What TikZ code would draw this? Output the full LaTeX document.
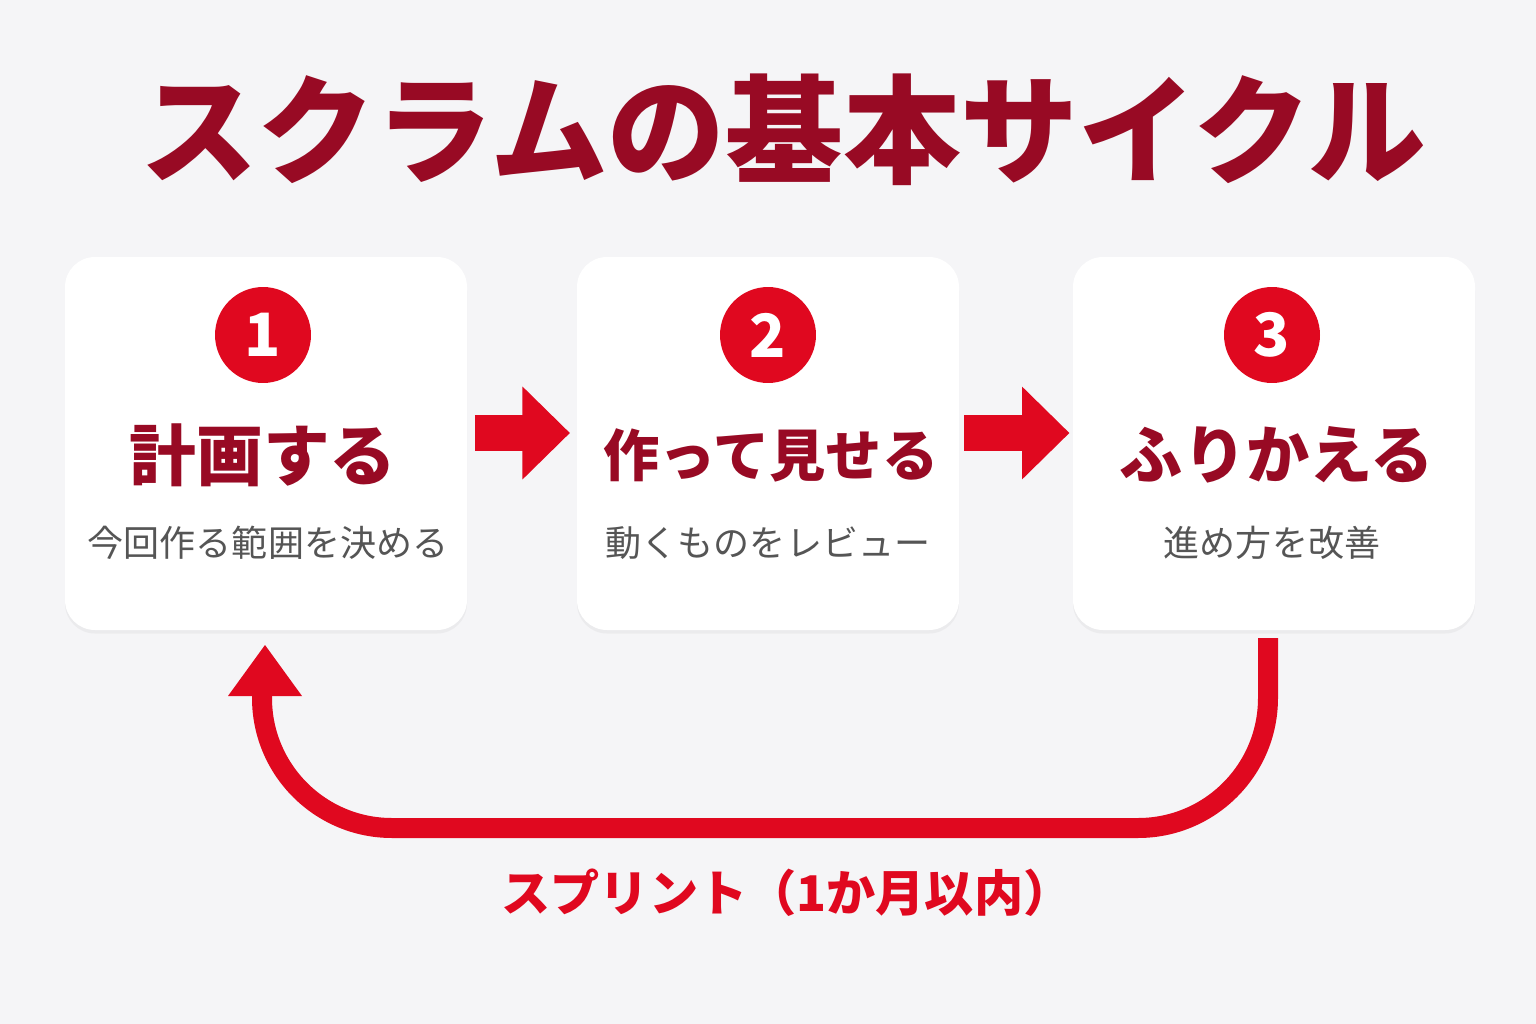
\documentclass[tikz,border=0pt]{standalone}
\usepackage{fontspec}
\setmainfont{Noto Sans CJK JP}
\usetikzlibrary{positioning,arrows.meta,shadows}
\definecolor{bgc}{HTML}{F5F5F7}
\definecolor{darkred}{HTML}{980A24}
\definecolor{brightred}{HTML}{E0081F}
\definecolor{subgray}{HTML}{555555}
\tikzset{
	card/.style={draw=none,fill=white,rounded corners=0.6cm,
		drop shadow={opacity=0.08,shadow xshift=0pt,shadow yshift=-2pt}},
	num/.style={circle,fill=brightred,text=white,minimum size=1.92cm,inner sep=0pt,
		font=\fontsize{34}{34}\bfseries},
	head/.style={text=darkred,font=\fontsize{38}{40}\bfseries},
	sub/.style={text=subgray,font=\fontsize{20.5}{22}\selectfont},
	flow/.style={brightred,line width=0.72cm,-{Triangle[length=0.95cm,width=1.8cm]}},
	loop/.style={brightred,line width=0.4cm,rounded corners=2.6cm}
}
\begin{document}
\begin{tikzpicture}[x=0.02cm,y=-0.02cm]
	\fill[bgc] (0,0) rectangle (1536,1024);
	\useasboundingbox (0,0) rectangle (1536,1024);

	\node[text=darkred,font=\fontsize{67}{67}\bfseries] (title) at (783,130) {スクラムの基本サイクル};

	% boxes
	\path[card] (65,257) rectangle (467,630);
	\path[card] (577,257) rectangle (959,630);
	\path[card] (1073,257) rectangle (1475,630);
	\coordinate (b1e) at (467,433);
	\coordinate (b2w) at (577,433);
	\coordinate (b2e) at (959,433);
	\coordinate (b3w) at (1073,433);

	\node[num] (n1) at (263,335) {1};
	\node[num] (n2) at (768,335) {2};
	\node[num] (n3) at (1272,335) {3};

	\node[head] (h1) at (263,455) {計画する};
	\node[head,font=\fontsize{32}{34}\bfseries] (h2) at (771,455) {作って見せる};
	\node[head,font=\fontsize{36}{38}\bfseries] (h3) at (1277,455) {ふりかえる};

	\node[sub] (s1) at (268,543) {今回作る範囲を決める};
	\node[sub] (s2) at (768,543) {動くものをレビュー};
	\node[sub] (s3) at (1272,543) {進め方を改善};

	\draw[flow,shorten <=4.5pt,shorten >=4pt] (b1e) -- (b2w);
	\draw[flow,shorten <=3pt,shorten >=2pt] (b2e) -- (b3w);

	% sprint loop
	\coordinate (lstart) at (1268,638);
	\coordinate (lend) at (265,645);
	\draw[loop] (lstart) -- (1268,828) -- (262,828) -- (262,690);
	\fill[brightred] (lend) -- (302,696) -- (228,696) -- cycle;

	\node[text=brightred,font=\fontsize{28}{30}\bfseries] (label) at (787,893) {スプリント（1か月以内）};
\end{tikzpicture}
\end{document}
